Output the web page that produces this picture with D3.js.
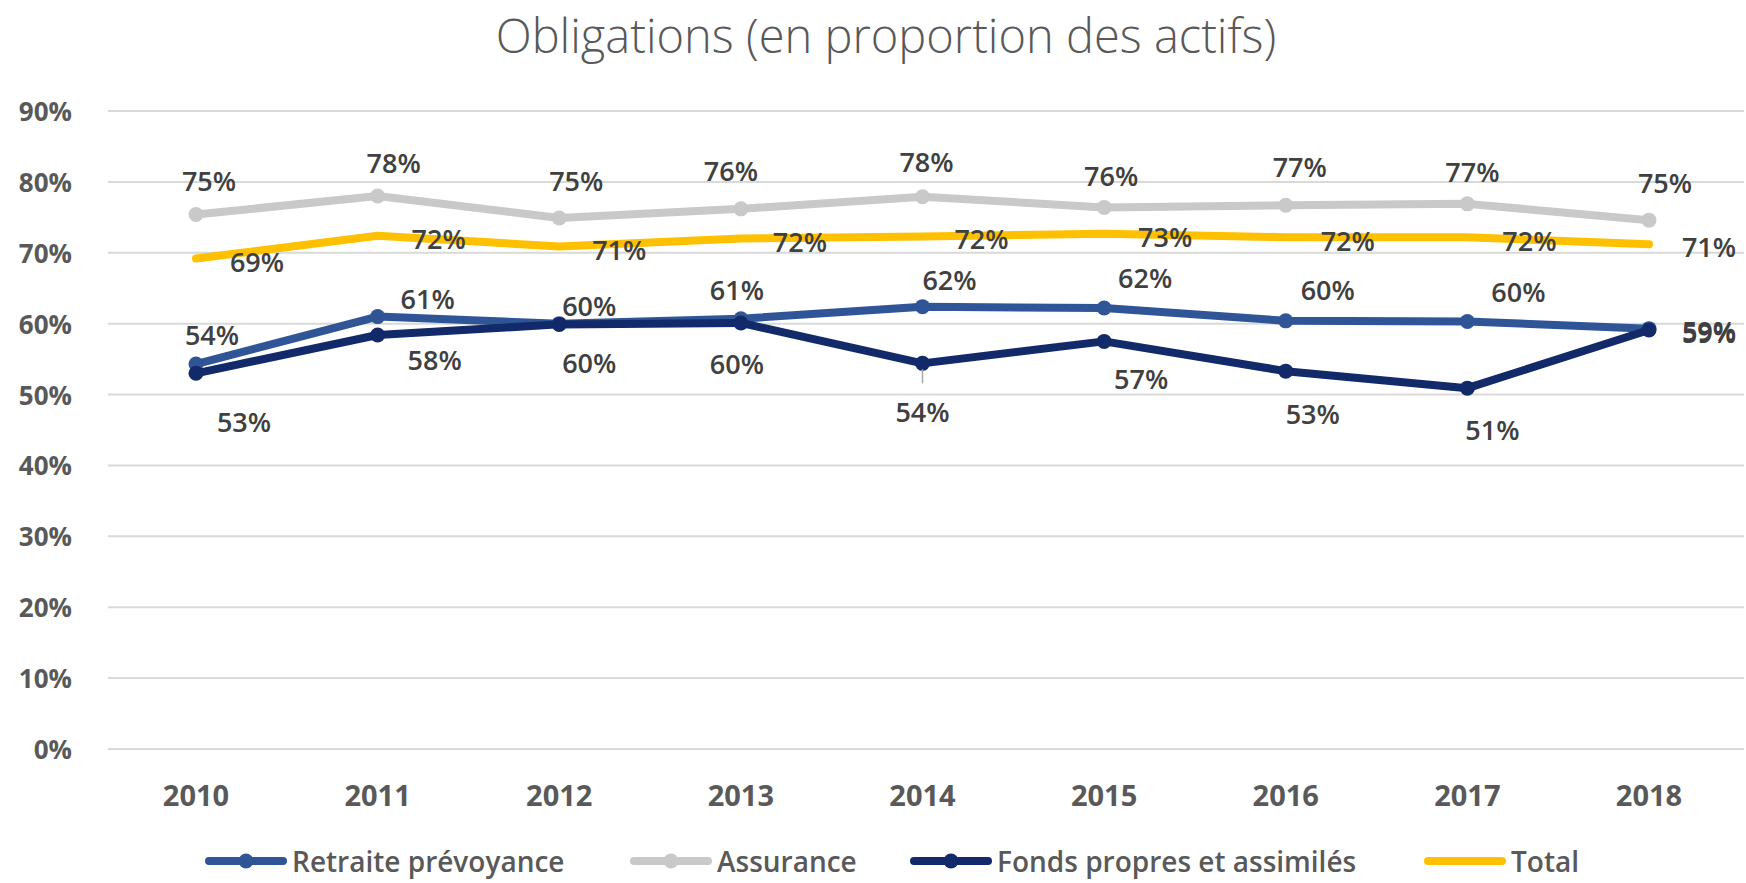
<!DOCTYPE html>
<html lang="fr">
<head>
<meta charset="UTF-8">
<title>Obligations (en proportion des actifs)</title>
<script src="https://d3js.org/d3.v7.min.js"></script>
<style>
  body { margin: 0; background: #fff; font-family: "Open Sans", Arial, sans-serif; }
  svg { display: block; }
</style>
</head>
<body>
<svg id="chart" width="1746" height="883"></svg>
<script>
// données
const years = ["2010", "2011", "2012", "2013", "2014", "2015", "2016", "2017", "2018"];
const retraite = [0.543, 0.610, 0.600, 0.607, 0.624, 0.622, 0.604, 0.603, 0.593];
const assurance = [0.754, 0.780, 0.749, 0.762, 0.779, 0.764, 0.767, 0.769, 0.746];
const fonds = [0.530, 0.584, 0.599, 0.601, 0.544, 0.575, 0.533, 0.509, 0.591];
const total = [0.692, 0.724, 0.709, 0.720, 0.723, 0.727, 0.722, 0.722, 0.712];
const yTicks = [0, 0.1, 0.2, 0.3, 0.4, 0.5, 0.6, 0.7, 0.8, 0.9];

// placement manuel des étiquettes (décalage par rapport au point)
const series = [
  { name: "Retraite prévoyance", values: retraite, color: "#2F5597", marker: true,
    dx: [16, 50, 30, -4, 27, 41, 42, 51, 60], dy: [-30, -18, -18, -29, -27, -31, -31, -30, 2] },
  { name: "Assurance", values: assurance, color: "#C9C9C9", marker: true,
    dx: [13, 16, 17, -10, 4, 7, 14, 5, 16], dy: [-34, -34, -38, -38, -35, -32, -39, -32, -38] },
  { name: "Fonds propres et assimilés", values: fonds, color: "#12296A", marker: true,
    dx: [48, 57, 30, -4, 0, 37, 27, 25, 60], dy: [48, 24, 38, 41, 48, 37, 42, 41, 2] },
  { name: "Total", values: total, color: "#FFC000", marker: false,
    dx: [61, 61, 60, 59, 59, 61, 62, 62, 60], dy: [3, 3, 3, 3, 2, 3, 3, 3, 2] }
];

const svg = d3.select("#chart");

const x = d3.scalePoint().domain(years).range([196, 1649]);
const y = d3.scaleLinear().domain([0, 0.9]).range([749, 111]);
const pct = d3.format(".0%");

// titre
svg.append("text")
  .attr("x", 886).attr("y", 35)
  .attr("text-anchor", "middle").attr("dominant-baseline", "central")
  .style("font-size", "47px").style("fill", "#595959").style("font-weight", 300)
  .text("Obligations (en proportion des actifs)");

// grille + axe Y
const grid = svg.append("g");
grid.selectAll("line").data(yTicks).join("line")
  .attr("x1", 108).attr("x2", 1744)
  .attr("y1", d => y(d)).attr("y2", d => y(d))
  .attr("stroke", "#D9D9D9").attr("stroke-width", 2);

grid.selectAll("text").data(yTicks).join("text")
  .attr("x", 72).attr("y", d => y(d))
  .attr("text-anchor", "end").attr("dominant-baseline", "central")
  .style("font-size", "26px").style("font-weight", 700).style("fill", "#595959")
  .text(pct);

// axe X
svg.append("g").selectAll("text").data(years).join("text")
  .attr("x", d => x(d)).attr("y", 794)
  .attr("text-anchor", "middle").attr("dominant-baseline", "central")
  .style("font-size", "29px").style("font-weight", 700).style("fill", "#595959")
  .text(d => d);

// lignes
const line = d3.line().x((d, i) => x(years[i])).y(d => y(d));
const plot = svg.append("g");
series.forEach(s => {
  plot.append("path")
    .attr("d", line(s.values))
    .attr("fill", "none").attr("stroke", s.color)
    .attr("stroke-width", 8).attr("stroke-linejoin", "round").attr("stroke-linecap", "round");
  if (s.marker) {
    plot.selectAll(null).data(s.values).join("circle")
      .attr("cx", (d, i) => x(years[i])).attr("cy", d => y(d))
      .attr("r", 7.5).attr("fill", s.color);
  }
});

// trait de rappel 2014 (fonds propres)
svg.append("line")
  .attr("x1", x("2014")).attr("x2", x("2014"))
  .attr("y1", y(fonds[4]) + 6).attr("y2", y(fonds[4]) + 20)
  .attr("stroke", "#A6A6A6").attr("stroke-width", 1.5);

// étiquettes de données
const labels = svg.append("g");
series.forEach(s => {
  labels.selectAll(null).data(s.values).join("text")
    .attr("x", (d, i) => x(years[i]) + s.dx[i])
    .attr("y", (d, i) => y(d) + s.dy[i])
    .attr("text-anchor", "middle").attr("dominant-baseline", "central")
    .style("font-size", "27px").style("font-weight", 600).style("fill", "#404040")
    .text(d => pct(d));
});

// légende
const legendX = [206, 631, 911, 1425];
const legend = svg.append("g");
series.forEach((s, i) => {
  const g = legend.append("g").attr("transform", `translate(${legendX[i]},861)`);
  g.append("line").attr("x1", 3).attr("x2", 77)
    .attr("stroke", s.color).attr("stroke-width", 8).attr("stroke-linecap", "round");
  if (s.marker) g.append("circle").attr("cx", 40).attr("r", 7.5).attr("fill", s.color);
  g.append("text").attr("x", 86).attr("dominant-baseline", "central")
    .style("font-size", "28px").style("font-weight", 600).style("fill", "#595959")
    .text(s.name);
});
</script>
</body>
</html>
